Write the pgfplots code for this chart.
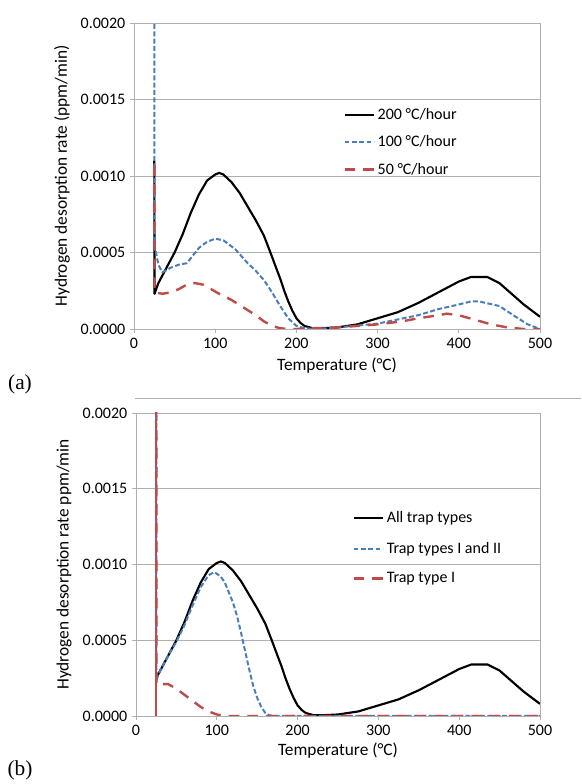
\documentclass[border=0pt]{standalone}
\usepackage{pgfplots}
\pgfplotsset{compat=1.18}
\usepackage{fontspec}
\setmainfont{Carlito}
\newfontfamily\timesfont{Liberation Serif}
\definecolor{exblue}{HTML}{4A7EBB}
\definecolor{exred}{HTML}{BE4B48}
\definecolor{gridgray}{HTML}{B0B0B0}
\newcommand{\lblfont}{\fontsize{12}{14}\selectfont}
\newcommand{\ttlfont}{\fontsize{13}{15}\selectfont}
\pgfplotsset{
  myaxis/.style={
    scale only axis, xmin=0, xmax=500, ymin=0, ymax=0.002,
    xtick={0,100,...,500}, ytick={0,0.0005,0.001,0.0015,0.002},
    scaled y ticks=false,
    /pgf/number format/assume math mode=true,
    ymajorgrids, major grid style={gridgray, line width=0.7pt},
    axis line style={gridgray, line width=0.7pt},
    tick style={gridgray, line width=0.7pt},
    tick align=outside, major tick length=3pt,
    xtick pos=bottom, ytick pos=left,
    xticklabel style={font=\lblfont},
    yticklabel style={font=\lblfont, /pgf/number format/.cd, fixed, fixed zerofill, precision=4},
    xlabel={Temperature (°C)},
    legend style={draw=none, fill=none, font=\lblfont},
    legend cell align=left,
    legend image code/.code={\draw[##1] (0pt,0pt) -- (22pt,0pt);},
  },
  blk/.style={black, line width=1.6pt, line join=round},
  blu/.style={exblue, line width=1.5pt, dash pattern=on 3.7pt off 1.8pt},
  rd/.style={exred, line width=1.8pt, dash pattern=on 8pt off 6pt},
}
\begin{document}
\begin{tikzpicture}
\useasboundingbox (0,0) rectangle (435.75pt,588pt);
% panel (a)
\begin{axis}[myaxis, at={(100.5pt,341.25pt)}, anchor=south west,
  width=304.5pt, height=229.5pt,
  ylabel={Hydrogen desorption rate (ppm/min)},
  every axis y label/.style={at={(axis description cs:-0.177,0.5)},rotate=90,anchor=center,font=\ttlfont},
  every axis x label/.style={at={(axis description cs:0.5,-0.12)},anchor=center,font=\ttlfont},
  legend style={at={(axis description cs:0.505,0.74)}, anchor=north west, row sep=6.75pt},
]
\addplot[blk] coordinates {
(25,0.00110) (25.3,0.00023) (30,0.00030) (40,0.00040) (50,0.00050) (60,0.00062) (70,0.00076) (80,0.00088) (90,0.00097) (100,0.00101) (105,0.00102) (110,0.00101) (120,0.00096) (130,0.00089) (140,0.00080) (150,0.00071) (160,0.00061) (168,0.00050) (175,0.00040) (180,0.00033) (185,0.00025) (190,0.00018) (195,0.00012) (200,0.00007) (205,0.00004) (210,0.00002) (220,0.000005) (230,0.000005) (250,0.00001) (275,0.00003) (300,0.00007) (325,0.00011) (350,0.00017) (375,0.00024) (400,0.00031) (415,0.00034) (425,0.00034) (435,0.00034) (450,0.00030) (465,0.00023) (480,0.00016) (490,0.00012) (500,0.00008)
};
\addlegendentry{200 °C/hour}
\addplot[blu] coordinates {
(25,0.00300) (25.3,0.00055) (30,0.00042) (35,0.00037) (45,0.00040) (55,0.00042) (65,0.00043) (80,0.00053) (90,0.00057) (100,0.00059) (110,0.00058) (125,0.00052) (140,0.00043) (150,0.00038) (160,0.00032) (170,0.00024) (180,0.00015) (190,0.00007) (200,0.00002) (210,0.000005) (225,0.0) (250,0.00001) (300,0.000035) (350,0.00009) (375,0.00013) (400,0.00016) (415,0.00018) (425,0.00018) (450,0.00015) (470,0.00008) (485,0.00003) (500,0.0)
};
\addlegendentry{100 °C/hour}
\addplot[rd] coordinates {
(25,0.00107) (25.3,0.00024) (35,0.00023) (45,0.00024) (55,0.00026) (65,0.00029) (75,0.00030) (85,0.00029) (95,0.00026) (105,0.00023) (120,0.00019) (135,0.00014) (150,0.00009) (160,0.00005) (170,0.00002) (180,0.000005) (190,0.0) (200,0.0) (220,0.000005) (250,0.00001) (300,0.00003) (330,0.00005) (350,0.00007) (375,0.00009) (385,0.00010) (400,0.00009) (420,0.00006) (440,0.00003) (460,0.00001) (480,0.0) (500,0.0)
};
\addlegendentry{50 °C/hour}
\end{axis}
% separator
\draw[gridgray, line width=0.7pt] (101.25pt,289.5pt) -- (435.75pt,289.5pt);
\node[font=\timesfont\fontsize{16}{18}\selectfont] at (15pt,300pt) {(a)};
\node[font=\timesfont\fontsize{16}{18}\selectfont] at (15pt,10.5pt) {(b)};
% panel (b)
\begin{axis}[myaxis, at={(102pt,51pt)}, anchor=south west,
  width=303pt, height=227.25pt,
  ylabel={Hydrogen desorption rate ppm/min},
  every axis y label/.style={at={(axis description cs:-0.178,0.5)},rotate=90,anchor=center,font=\ttlfont},
  every axis x label/.style={at={(axis description cs:0.5,-0.115)},anchor=center,font=\ttlfont},
  legend style={at={(axis description cs:0.525,0.693)}, anchor=north west, row sep=9pt},
]
\addplot[blk] coordinates {
(25,0.00025) (30,0.00030) (40,0.00040) (50,0.00050) (60,0.00062) (70,0.00076) (80,0.00088) (90,0.00097) (100,0.00101) (105,0.00102) (110,0.00101) (120,0.00096) (130,0.00089) (140,0.00080) (150,0.00071) (160,0.00061) (168,0.00050) (175,0.00040) (180,0.00033) (185,0.00025) (190,0.00018) (195,0.00012) (200,0.00007) (205,0.00004) (210,0.00002) (220,0.000005) (230,0.000005) (250,0.00001) (275,0.00003) (300,0.00007) (325,0.00011) (350,0.00017) (375,0.00024) (400,0.00031) (415,0.00034) (425,0.00034) (435,0.00034) (450,0.00030) (465,0.00023) (480,0.00016) (490,0.00012) (500,0.00008)
};
\addlegendentry{All trap types}
\addplot[blu] coordinates {
(25,0.00300) (25.3,0.00024) (30,0.00030) (40,0.00040) (50,0.00049) (60,0.00060) (70,0.00073) (80,0.00085) (90,0.00093) (97,0.00095) (105,0.00092) (110,0.00088) (120,0.00075) (125,0.00066) (130,0.00055) (135,0.00043) (140,0.00031) (145,0.00020) (150,0.00012) (155,0.00006) (160,0.00002) (165,0.000005) (170,0.0) (500,0.0)
};
\addlegendentry{Trap types I and II}
\addplot[rd] coordinates {
(25,0.00300) (25.3,0.00021) (35,0.00021) (40,0.00021) (50,0.00018) (60,0.00014) (70,0.00010) (80,0.00006) (90,0.00003) (100,0.00001) (110,0.0) (500,0.0)
};
\addlegendentry{Trap type I}
\addplot[exred, line width=1.6pt, forget plot] coordinates {(25,0.0) (25,0.00300)};
\addplot[exblue, line width=1.6pt, dash pattern=on 1pt off 12pt, forget plot] coordinates {(25,0.00300) (25,0.00025)};
\end{axis}
\end{tikzpicture}
\end{document}
